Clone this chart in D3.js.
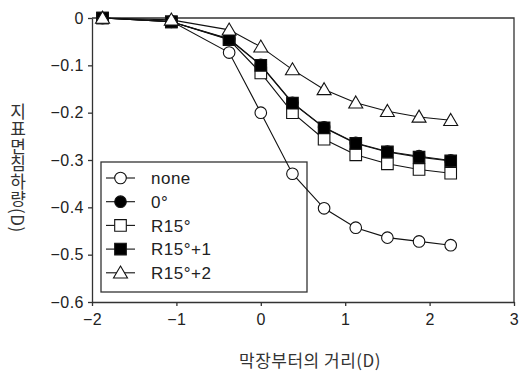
<!DOCTYPE html>
<html>
<head>
<meta charset="utf-8">
<script src="https://cdn.jsdelivr.net/npm/d3@7"></script>
<style>
  body { margin: 0; background: #fff; }
  .tick text { font-family: "Liberation Sans", Arial, sans-serif; font-size: 16px; fill: #222; letter-spacing: 0.5px; }
  .axis path, .axis line { stroke: #333; stroke-width: 1.3px; }
  .kr { font-family: "Noto Sans CJK KR", sans-serif; fill: #333; }
</style>
</head>
<body>
<svg id="chart" width="521" height="374"></svg>
<script>
const xs = [-1.875, -1.06, -0.375, 0, 0.375, 0.75, 1.125, 1.5, 1.875, 2.25];

const none   = [0, -0.007, -0.073, -0.2, -0.329, -0.402, -0.443, -0.464, -0.472, -0.48];
const deg0   = [0, -0.008, -0.044, -0.099, -0.179, -0.231, -0.264, -0.282, -0.292, -0.301];
const r15    = [0, -0.008, -0.046, -0.116, -0.2, -0.256, -0.289, -0.308, -0.32, -0.328];
const r15p1  = [0, -0.008, -0.045, -0.1, -0.18, -0.232, -0.265, -0.283, -0.294, -0.302];
const r15p2  = [0, -0.004, -0.025, -0.061, -0.109, -0.151, -0.179, -0.197, -0.209, -0.216];

const names = ["none", "0°", "R15°", "R15°+1", "R15°+2"];
const shapes = ["circle", "circle", "square", "square", "triangle"];
const fills = ["#fff", "#000", "#fff", "#000", "#fff"];

const xTicks = [-2, -1, 0, 1, 2, 3];
const yTicks = [0, -0.1, -0.2, -0.3, -0.4, -0.5, -0.6];

const series = [none, deg0, r15, r15p1, r15p2].map((v, i) => ({
    name: names[i], shape: shapes[i], fill: fills[i],
    values: v.map((y, j) => ({ x: xs[j], y: y }))
}));

const svg = d3.select("#chart"),
    margin = { top: 18, right: 7, bottom: 72, left: 92 },
    width = +svg.attr("width") - margin.left - margin.right,
    height = +svg.attr("height") - margin.top - margin.bottom,
    g = svg.append("g").attr("transform", `translate(${margin.left},${margin.top})`);

const x = d3.scaleLinear().domain([-2, 3]).range([0, width]);
const y = d3.scaleLinear().domain([-0.6, 0]).range([height, 0]);

const fmt = d => d === 0 ? "0" : d3.format(".1f")(d).replace("-", "\u2212");

g.append("g")
    .attr("class", "axis")
    .attr("transform", `translate(0,${height})`)
    .call(d3.axisBottom(x).tickValues(xTicks).tickSize(4).tickSizeOuter(0)
        .tickFormat(d => String(d).replace("-", "\u2212")))
    .call(a => a.selectAll(".tick text").attr("y", 8).attr("dy", "0.95em"));

g.append("g")
    .attr("class", "axis")
    .call(d3.axisLeft(y).tickValues(yTicks).tickSize(4).tickSizeOuter(0).tickFormat(fmt))
    .call(a => a.selectAll(".tick text").attr("x", -8));

// top and right frame
g.append("path")
    .attr("d", `M0,0H${width}V${height}`)
    .attr("fill", "none")
    .attr("stroke", "#333")
    .attr("stroke-width", 1.3);

const line = d3.line()
    .x(d => x(d.x))
    .y(d => y(d.y));

const symbolPath = (shape, cx, cy) => {
    const s = 5.8;
    if (shape === "square") return `M${cx - s},${cy - s}h${2 * s}v${2 * s}h${-2 * s}Z`;
    if (shape === "triangle") return `M${cx},${cy - 6.8}L${cx + 7},${cy + 5.2}L${cx - 7},${cy + 5.2}Z`;
    return `M${cx - s},${cy}a${s},${s} 0 1,0 ${2 * s},0a${s},${s} 0 1,0 ${-2 * s},0`;
};

// legend box (drawn under the lines)
const legend = g.append("g").attr("transform", "translate(9,144)");
legend.append("rect")
    .attr("width", 206)
    .attr("height", 130)
    .attr("fill", "none")
    .attr("stroke", "#333")
    .attr("stroke-width", 1.3);

series.forEach(s => {
    g.append("path")
        .datum(s.values)
        .attr("fill", "none")
        .attr("stroke", "#111")
        .attr("stroke-width", 1.1)
        .attr("d", line);
});

series.forEach(s => {
    g.selectAll(null)
        .data(s.values)
        .enter().append("path")
        .attr("d", d => symbolPath(s.shape, x(d.x), y(d.y)))
        .attr("fill", s.fill)
        .attr("stroke", "#111")
        .attr("stroke-width", 1.1);
});

const item = legend.selectAll(".item")
    .data(series)
    .enter().append("g")
    .attr("class", "item")
    .attr("transform", (d, i) => `translate(0,${16 + i * 23.7})`);

item.append("line")
    .attr("x1", 5).attr("x2", 34)
    .attr("stroke", "#111").attr("stroke-width", 1.1);

item.append("path")
    .attr("d", d => symbolPath(d.shape, 19.5, 0))
    .attr("fill", d => d.fill)
    .attr("stroke", "#111")
    .attr("stroke-width", 1.1);

item.append("text")
    .attr("x", 50)
    .attr("dy", "0.36em")
    .style("font-family", "'Liberation Sans', Arial, sans-serif")
    .style("font-size", "17px")
    .style("letter-spacing", "0.5px")
    .style("fill", "#222")
    .text(d => d.name);

svg.append("text")
    .attr("class", "kr")
    .attr("x", 310)
    .attr("y", 367)
    .attr("text-anchor", "middle")
    .style("font-size", "17px")
    .style("letter-spacing", "0.5px")
    .text("막장부터의 거리(D)");

svg.append("text")
    .attr("class", "kr")
    .attr("x", 18)
    .attr("y", 103)
    .style("writing-mode", "vertical-rl")
    .style("font-size", "17px")
    .style("letter-spacing", "0.5px")
    .text("지표면침하량(D)");
</script>
</body>
</html>
